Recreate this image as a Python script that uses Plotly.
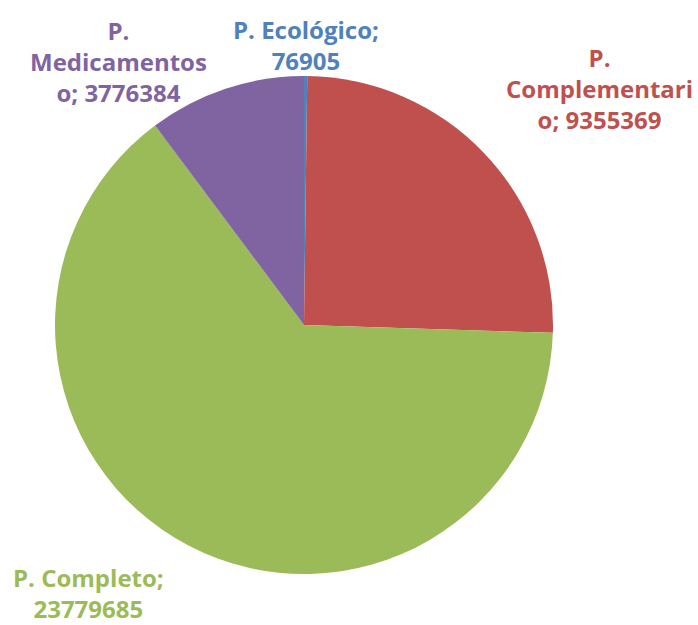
import plotly.graph_objects as go

# Programme totals
labels = ["P. Ecológico", "P. Complementario", "P. Completo", "P. Medicamentoso"]
values = [76905, 9355369, 23779685, 3776384]
colors = ["#4F81BD", "#C0504D", "#9BBB59", "#8064A2"]

# Label wrapping width (characters) and label centre in paper coordinates
wrap_widths = [13, 13, 13, 12]
label_x = [306 / 698, 599 / 698, 88 / 698, 118 / 698]
label_y = [1 - 45 / 625, 1 - 88 / 625, 1 - 593 / 625, 1 - 62 / 625]


def wrap(text, width):
    lines, cur = [], ""
    for word in text.split(" "):
        while len(word) > width:
            if cur:
                lines.append(cur)
                cur = ""
            lines.append(word[:width])
            word = word[width:]
        cand = f"{cur} {word}" if cur else word
        if len(cand) <= width:
            cur = cand
        else:
            lines.append(cur)
            cur = word
    if cur:
        lines.append(cur)
    return "<br>".join(lines)


fig = go.Figure(
    go.Pie(
        labels=labels,
        values=values,
        sort=False,
        direction="clockwise",
        rotation=0,
        marker=dict(colors=colors, line=dict(width=0)),
        textinfo="none",
        hoverinfo="label+value",
        domain=dict(x=[55 / 698, 553 / 698], y=[50 / 625, 550 / 625]),
        showlegend=False,
    )
)

for name, val, col, w, x, y in zip(labels, values, colors, wrap_widths, label_x, label_y):
    fig.add_annotation(
        text="<b>" + wrap(f"{name}; {val}", w) + "</b>",
        x=x, y=y, xref="paper", yref="paper",
        xanchor="center", yanchor="middle",
        showarrow=False, align="center",
        font=dict(family="Open Sans, sans-serif", size=24, color=col),
    )

fig.update_layout(
    width=698, height=625,
    margin=dict(l=0, r=0, t=0, b=0),
    paper_bgcolor="white", plot_bgcolor="white",
)

fig.write_html("out.html")
